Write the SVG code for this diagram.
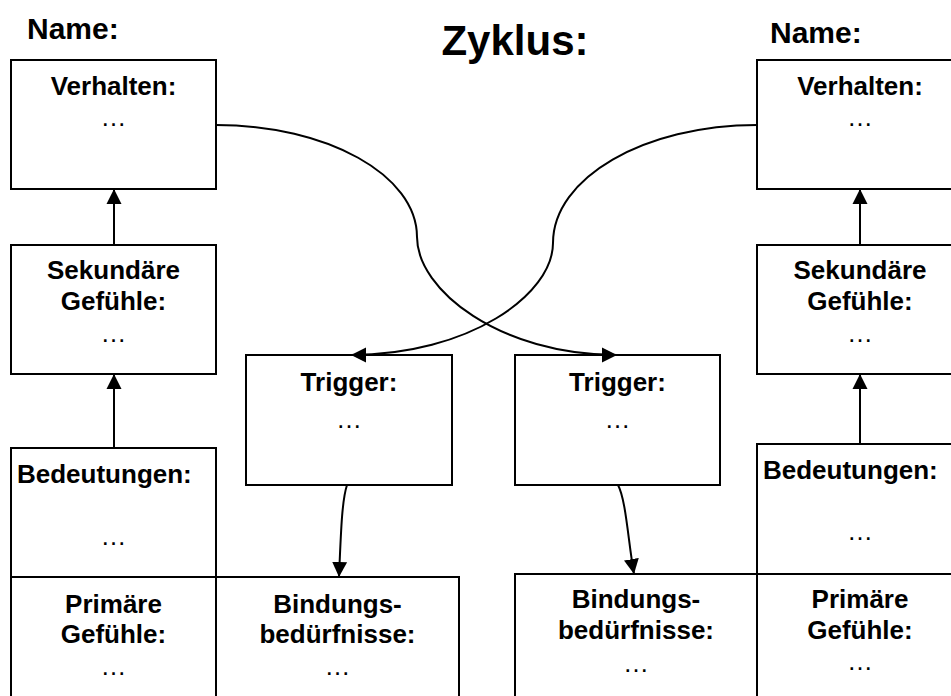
<svg xmlns="http://www.w3.org/2000/svg" width="951" height="696" viewBox="0 0 951 696">
<style>
.box{fill:#fff;stroke:#000;stroke-width:2}
.t{font-family:"Liberation Sans",Arial,sans-serif;font-weight:bold;font-size:26px;fill:#000;text-anchor:middle}
.ts{font-family:"Liberation Sans",Arial,sans-serif;font-weight:bold;font-size:26px;fill:#000;text-anchor:start}
.d{font-family:"Liberation Sans",Arial,sans-serif;font-size:26px;fill:#000;text-anchor:middle}
.h{font-family:"Liberation Sans",Arial,sans-serif;font-weight:bold;fill:#000}
.e{fill:none;stroke:#000;stroke-width:2}
</style>
<defs>
<marker id="arr" markerWidth="16" markerHeight="16" viewBox="0 0 16 16" refX="15" refY="8" orient="auto" markerUnits="userSpaceOnUse">
<path d="M0,0.5 L15,8 L0,15.5 Z" fill="#000"/>
</marker>
</defs>
<rect width="951" height="696" fill="#fff"/>
<g id="titles">
<text class="h" x="27" y="39" font-size="30">Name:</text>
<text class="h" x="515" y="55" font-size="42" text-anchor="middle">Zyklus:</text>
<text class="h" x="770" y="43" font-size="30">Name:</text>
</g>
<g id="l-verhalten">
<rect class="box" x="11" y="60" width="205" height="129"/>
<text class="t" x="113.5" y="95">Verhalten:</text>
<text class="d" x="113.5" y="126">…</text>
</g>
<g id="l-sekundaer">
<rect class="box" x="11" y="245" width="205" height="129"/>
<text class="t" x="113.5" y="279">Sekundäre</text>
<text class="t" x="113.5" y="310">Gefühle:</text>
<text class="d" x="113.5" y="342">…</text>
</g>
<g id="l-bedeutungen">
<rect class="box" x="11" y="448" width="205" height="129"/>
<text class="ts" x="17" y="483">Bedeutungen:</text>
<text class="d" x="113.5" y="545">…</text>
</g>
<g id="l-primaer">
<rect class="box" x="11" y="577" width="205" height="130"/>
<text class="t" x="113.5" y="613">Primäre</text>
<text class="t" x="113.5" y="643">Gefühle:</text>
<text class="d" x="113.5" y="675">…</text>
</g>
<g id="l-bindung">
<rect class="box" x="216" y="577" width="243" height="130"/>
<text class="t" x="337.5" y="613">Bindungs-</text>
<text class="t" x="337.5" y="643">bedürfnisse:</text>
<text class="d" x="337.5" y="675">…</text>
</g>
<g id="l-trigger">
<rect class="box" x="246" y="355" width="206" height="130"/>
<text class="t" x="349" y="391">Trigger:</text>
<text class="d" x="349" y="428" font-size="29">…</text>
</g>
<g id="r-trigger">
<rect class="box" x="515" y="355" width="205" height="130"/>
<text class="t" x="617.5" y="391">Trigger:</text>
<text class="d" x="617.5" y="428" font-size="29">…</text>
</g>
<g id="r-verhalten">
<rect class="box" x="757" y="60" width="206" height="129"/>
<text class="t" x="860" y="95">Verhalten:</text>
<text class="d" x="860" y="126">…</text>
</g>
<g id="r-sekundaer">
<rect class="box" x="757" y="245" width="206" height="129"/>
<text class="t" x="860" y="279">Sekundäre</text>
<text class="t" x="860" y="310">Gefühle:</text>
<text class="d" x="860" y="342">…</text>
</g>
<g id="r-bedeutungen">
<rect class="box" x="757" y="444" width="206" height="130"/>
<text class="ts" x="763" y="479">Bedeutungen:</text>
<text class="d" x="860" y="540">…</text>
</g>
<g id="r-bindung">
<rect class="box" x="515" y="574" width="242" height="133"/>
<text class="t" x="636" y="608">Bindungs-</text>
<text class="t" x="636" y="639">bedürfnisse:</text>
<text class="d" x="636" y="672">…</text>
</g>
<g id="r-primaer">
<rect class="box" x="757" y="574" width="206" height="133"/>
<text class="t" x="860" y="608">Primäre</text>
<text class="t" x="860" y="639">Gefühle:</text>
<text class="d" x="860" y="670">…</text>
</g>
<g id="connectors">
<path class="e" d="M114,245 L114,189" marker-end="url(#arr)"/>
<path class="e" d="M114,448 L114,374" marker-end="url(#arr)"/>
<path class="e" d="M860,245 L860,189" marker-end="url(#arr)"/>
<path class="e" d="M860,444 L860,374" marker-end="url(#arr)"/>
<path class="e" d="M216,125 C327,125 417,175 417,237 C417,290 500,355 617,355" marker-end="url(#arr)"/>
<path class="e" d="M757,125 C644,125 553,178 553,243 C553,295 468,355 351,355" marker-end="url(#arr)"/>
<path class="e" d="M347,485 C342,500 341,530 339,577" marker-end="url(#arr)"/>
<path class="e" d="M618,485 C626,500 628,540 634,574" marker-end="url(#arr)"/>
</g>
</svg>
